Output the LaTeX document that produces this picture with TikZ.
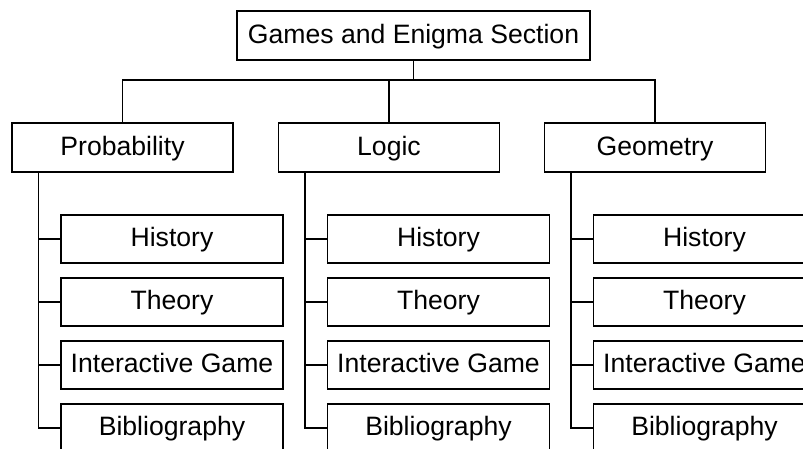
\documentclass[tikz,border=0pt]{standalone}
\usepackage{fontspec}
\setmainfont{Liberation Sans}
\usetikzlibrary{positioning}

\begin{document}
\begin{tikzpicture}[x=1pt,y=-1pt,line width=1.4pt,on grid,
    every node/.style={draw,rectangle,inner sep=0pt,font=\fontsize{26.6}{30}\selectfont,text height=19pt,text depth=4pt},
    section/.style={minimum width=221pt,minimum height=49pt},
    topic/.style={minimum width=222pt,minimum height=48pt}]
    \clip (0,0) rectangle (803,448);
    \node [minimum width=353pt,minimum height=49pt] (top) at (413.5,35.5) {Games and Enigma Section};
    \node [section,below left=112pt and 24.5pt of top] (logic) {Logic};
    \node [section,left=266.5pt of logic] (prob) {Probability};
    \node [section,right=266pt of logic] (geo) {Geometry};
    % probability
    \node [topic,below right=91.5pt and 49.5pt of prob] (hist1) {History};
    \node [topic,below=63pt of hist1] (theo1) {Theory};
    \node [topic,below=63pt of theo1] (game1) {Interactive Game};
    \node [topic,below=63pt of game1] (bib1) {Bibliography};
    % logic
    \node [topic,below right=91.5pt and 49.5pt of logic] (hist2) {History};
    \node [topic,below=63pt of hist2] (theo2) {Theory};
    \node [topic,below=63pt of theo2] (game2) {Interactive Game};
    \node [topic,below=63pt of game2] (bib2) {Bibliography};
    % geometry
    \node [topic,below right=91.5pt and 49.5pt of geo] (hist3) {History};
    \node [topic,below=63pt of hist3] (theo3) {Theory};
    \node [topic,below=63pt of theo3] (game3) {Interactive Game};
    \node [topic,below=63pt of game3] (bib3) {Bibliography};
    % bus
    \coordinate (bus) at (0,80);
    \draw (top.south) -- (top.south |- bus);
    \draw (prob.north) -- (prob.north |- bus) -- (geo.north |- bus) -- (geo.north);
    \draw (logic.north) -- (logic.north |- bus);
    % spines
    \coordinate (spine1) at ([xshift=27pt]prob.south west);
    \coordinate (spine2) at ([xshift=27pt]logic.south west);
    \coordinate (spine3) at ([xshift=27pt]geo.south west);
    \draw (spine1) |- (bib1.west);
    \draw (spine1 |- hist1.west) -- (hist1.west);
    \draw (spine1 |- theo1.west) -- (theo1.west);
    \draw (spine1 |- game1.west) -- (game1.west);
    \draw (spine2) |- (bib2.west);
    \draw (spine2 |- hist2.west) -- (hist2.west);
    \draw (spine2 |- theo2.west) -- (theo2.west);
    \draw (spine2 |- game2.west) -- (game2.west);
    \draw (spine3) |- (bib3.west);
    \draw (spine3 |- hist3.west) -- (hist3.west);
    \draw (spine3 |- theo3.west) -- (theo3.west);
    \draw (spine3 |- game3.west) -- (game3.west);
\end{tikzpicture}
\end{document}
